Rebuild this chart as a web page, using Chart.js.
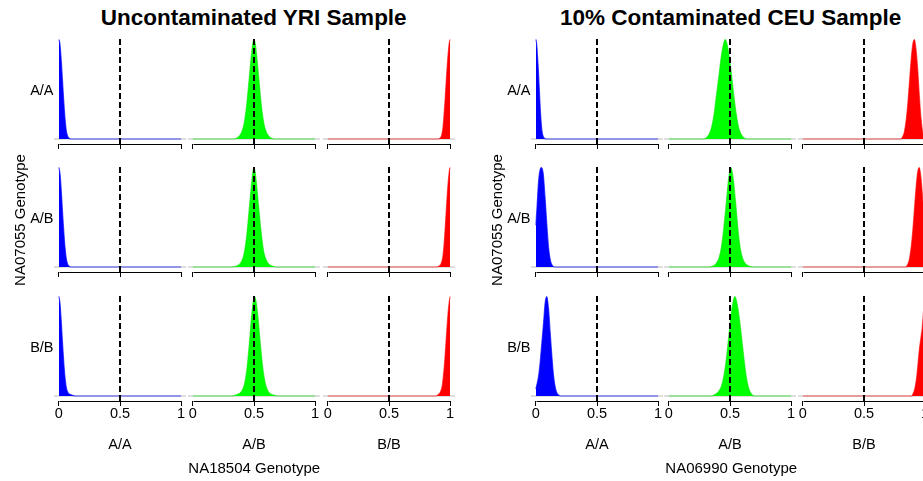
<!DOCTYPE html>
<html>
<head>
<meta charset="utf-8">
<script src="https://cdn.jsdelivr.net/npm/chart.js@4"></script>
<style>
  html, body { margin: 0; padding: 0; background: #fff; overflow: hidden; }
  #page { position: relative; width: 923px; height: 481px; overflow: hidden;
          font-family: "Liberation Sans", Arial, sans-serif; color: #000; }
  canvas { position: absolute; }
  .txt { position: absolute; white-space: nowrap; line-height: 1; transform: translate(-50%, -50%); }
  .right { transform: translate(-100%, -50%); }
  .title { font-weight: bold; font-size: 22.5px; }
  .lab { font-size: 14.5px; }
  .axt { font-size: 15px; }
  .rot { transform: translate(-50%, -50%) rotate(-90deg); }
</style>
</head>
<body>
<div id="page"></div>
<script>
// Labels
const genotypes = ['A/A', 'A/B', 'B/B'];
const xTicks = [0, 0.5, 1];
const panelTitles = ['Uncontaminated YRI Sample', '10% Contaminated CEU Sample'];
const xTitles = ['NA18504 Genotype', 'NA06990 Genotype'];
const yTitle = 'NA07055 Genotype';
const fillColors = ['#0000ff', '#00ff00', '#ff0000'];
const lineColors = ['rgba(0,0,255,0.65)', 'rgba(0,230,0,0.6)', 'rgba(255,0,0,0.6)'];

// Densities (scaled to peak = 1).
// name: panel_rowGenotype_columnGenotype
// YRI, row A/A
const yri_aa_aa_x = [0, 0.005, 0.01, 0.02, 0.03, 0.04, 0.05, 0.06, 0.07, 0.08, 0.1, 1];
const yri_aa_aa_y = [1, 0.98, 0.94, 0.78, 0.58, 0.38, 0.21, 0.09, 0.035, 0.012, 0, 0];
const yri_aa_ab_x = [0, 0.33, 0.36, 0.38, 0.4, 0.42, 0.44, 0.46, 0.48, 0.49, 0.5, 0.51, 0.52, 0.54, 0.56, 0.58, 0.6, 0.62, 0.64, 0.67, 1];
const yri_aa_ab_y = [0, 0, 0.01, 0.03, 0.07, 0.16, 0.34, 0.6, 0.86, 0.96, 1, 0.96, 0.86, 0.6, 0.34, 0.16, 0.07, 0.03, 0.01, 0, 0];
const yri_aa_bb_x = [0, 0.9, 0.92, 0.93, 0.94, 0.95, 0.96, 0.97, 0.98, 0.99, 0.995, 1];
const yri_aa_bb_y = [0, 0, 0.012, 0.035, 0.1, 0.24, 0.42, 0.62, 0.8, 0.94, 0.98, 1];
// YRI, row A/B
const yri_ab_aa_x = [0, 0.005, 0.01, 0.02, 0.03, 0.04, 0.05, 0.06, 0.07, 0.08, 0.1, 1];
const yri_ab_aa_y = [1, 0.97, 0.93, 0.76, 0.55, 0.36, 0.2, 0.09, 0.035, 0.012, 0, 0];
const yri_ab_ab_x = [0, 0.32, 0.35, 0.38, 0.4, 0.42, 0.44, 0.46, 0.48, 0.49, 0.5, 0.51, 0.52, 0.54, 0.56, 0.58, 0.6, 0.62, 0.65, 0.68, 1];
const yri_ab_ab_y = [0, 0, 0.008, 0.025, 0.06, 0.14, 0.31, 0.57, 0.84, 0.95, 1, 0.95, 0.84, 0.58, 0.33, 0.15, 0.07, 0.03, 0.01, 0, 0];
const yri_ab_bb_x = [0, 0.89, 0.91, 0.925, 0.94, 0.95, 0.96, 0.97, 0.98, 0.99, 0.995, 1];
const yri_ab_bb_y = [0, 0, 0.01, 0.03, 0.1, 0.22, 0.4, 0.6, 0.79, 0.93, 0.98, 1];
// YRI, row B/B
const yri_bb_aa_x = [0, 0.005, 0.01, 0.02, 0.03, 0.04, 0.05, 0.06, 0.07, 0.08, 0.09, 0.1, 0.115, 0.13, 1];
const yri_bb_aa_y = [1, 0.97, 0.92, 0.74, 0.53, 0.34, 0.19, 0.09, 0.045, 0.025, 0.018, 0.012, 0.006, 0, 0];
const yri_bb_ab_x = [0, 0.32, 0.35, 0.38, 0.4, 0.42, 0.44, 0.46, 0.48, 0.495, 0.505, 0.515, 0.53, 0.55, 0.57, 0.59, 0.61, 0.63, 0.66, 0.69, 1];
const yri_bb_ab_y = [0, 0, 0.01, 0.025, 0.05, 0.11, 0.25, 0.5, 0.8, 0.96, 1, 0.96, 0.82, 0.55, 0.3, 0.14, 0.06, 0.025, 0.01, 0, 0];
const yri_bb_bb_x = [0, 0.88, 0.9, 0.92, 0.935, 0.945, 0.955, 0.965, 0.975, 0.985, 0.993, 1];
const yri_bb_bb_y = [0, 0, 0.01, 0.04, 0.1, 0.2, 0.34, 0.52, 0.7, 0.86, 0.95, 1];

// CEU, row A/A
const ceu_aa_aa_x = [0, 0.005, 0.01, 0.02, 0.03, 0.04, 0.05, 0.06, 0.07, 0.08, 1];
const ceu_aa_aa_y = [1, 0.97, 0.9, 0.7, 0.45, 0.22, 0.08, 0.025, 0.008, 0, 0];
const ceu_aa_ab_x = [0, 0.28, 0.31, 0.33, 0.35, 0.37, 0.39, 0.41, 0.43, 0.45, 0.46, 0.47, 0.49, 0.51, 0.53, 0.55, 0.57, 0.59, 0.61, 0.64, 1];
const ceu_aa_ab_y = [0, 0, 0.015, 0.05, 0.12, 0.25, 0.45, 0.64, 0.84, 0.97, 1, 0.98, 0.86, 0.67, 0.45, 0.26, 0.12, 0.05, 0.015, 0, 0];
const ceu_aa_bb_x = [0, 0.8, 0.815, 0.83, 0.845, 0.86, 0.873, 0.886, 0.9, 0.913, 0.926, 0.94, 0.953, 0.967, 0.98, 0.99, 1];
const ceu_aa_bb_y = [0, 0, 0.02, 0.07, 0.19, 0.38, 0.59, 0.8, 0.96, 1, 0.9, 0.69, 0.43, 0.2, 0.07, 0.03, 0.01];
// CEU, row A/B
const ceu_ab_aa_x = [0, 0.01, 0.02, 0.03, 0.045, 0.06, 0.075, 0.09, 0.105, 0.12, 0.135, 0.15, 1];
const ceu_ab_aa_y = [0.42, 0.62, 0.83, 0.95, 1, 0.94, 0.7, 0.42, 0.18, 0.06, 0.015, 0, 0];
const ceu_ab_ab_x = [0, 0.33, 0.35, 0.37, 0.39, 0.41, 0.43, 0.45, 0.47, 0.49, 0.508, 0.525, 0.545, 0.565, 0.585, 0.605, 0.625, 0.645, 0.665, 0.69, 1];
const ceu_ab_ab_y = [0, 0, 0.005, 0.015, 0.04, 0.09, 0.2, 0.4, 0.65, 0.9, 1, 0.9, 0.66, 0.38, 0.18, 0.08, 0.035, 0.015, 0.005, 0, 0];
const ceu_ab_bb_x = [0, 0.84, 0.855, 0.87, 0.885, 0.9, 0.913, 0.926, 0.94, 0.953, 0.966, 0.98, 0.993, 1];
const ceu_ab_bb_y = [0, 0, 0.02, 0.07, 0.19, 0.38, 0.59, 0.8, 0.96, 1, 0.9, 0.69, 0.45, 0.33];
// CEU, row B/B
const ceu_bb_aa_x = [0, 0.022, 0.035, 0.049, 0.063, 0.076, 0.09, 0.104, 0.117, 0.131, 0.145, 0.158, 0.172, 0.186, 0.2, 1];
const ceu_bb_aa_y = [0.07, 0.2, 0.34, 0.54, 0.74, 0.94, 1, 0.87, 0.64, 0.4, 0.2, 0.09, 0.03, 0.01, 0, 0];
const ceu_bb_ab_x = [0, 0.34, 0.37, 0.39, 0.41, 0.43, 0.45, 0.47, 0.49, 0.51, 0.53, 0.54, 0.55, 0.57, 0.59, 0.61, 0.63, 0.65, 0.67, 0.7, 1];
const ceu_bb_ab_y = [0, 0, 0.01, 0.025, 0.05, 0.1, 0.2, 0.37, 0.6, 0.83, 0.97, 1, 0.97, 0.84, 0.64, 0.42, 0.22, 0.09, 0.03, 0, 0];
const ceu_bb_bb_x = [0, 0.89, 0.9, 0.915, 0.93, 0.94, 0.953, 0.965, 0.975, 0.985, 0.993, 1];
const ceu_bb_bb_y = [0, 0, 0.02, 0.07, 0.18, 0.3, 0.47, 0.58, 0.67, 0.82, 0.94, 1];

const panels = [
  {
    curves: [
      [[yri_aa_aa_x, yri_aa_aa_y], [yri_aa_ab_x, yri_aa_ab_y], [yri_aa_bb_x, yri_aa_bb_y]],
      [[yri_ab_aa_x, yri_ab_aa_y], [yri_ab_ab_x, yri_ab_ab_y], [yri_ab_bb_x, yri_ab_bb_y]],
      [[yri_bb_aa_x, yri_bb_aa_y], [yri_bb_ab_x, yri_bb_ab_y], [yri_bb_bb_x, yri_bb_bb_y]]
    ],
    lefts: [54, 188, 323], offset: 0
  },
  {
    curves: [
      [[ceu_aa_aa_x, ceu_aa_aa_y], [ceu_aa_ab_x, ceu_aa_ab_y], [ceu_aa_bb_x, ceu_aa_bb_y]],
      [[ceu_ab_aa_x, ceu_ab_aa_y], [ceu_ab_ab_x, ceu_ab_ab_y], [ceu_ab_bb_x, ceu_ab_bb_y]],
      [[ceu_bb_aa_x, ceu_bb_aa_y], [ceu_bb_ab_x, ceu_bb_ab_y], [ceu_bb_bb_x, ceu_bb_bb_y]]
    ],
    lefts: [531, 664, 798], offset: 477
  }
];

const rowTops = [37, 165, 294];
const plotH = 107, axisH = 30, cellW = 132;
const xMin = -0.04, xMax = 1.04, yMin = -0.05, yMax = 1.025;

Chart.defaults.font.family = '"Liberation Sans", Arial, sans-serif';

// R style axis line: only from first to last tick
const axisLine = {
  id: 'axisLine',
  afterDraw(chart) {
    const sx = chart.scales.x, ctx = chart.ctx;
    const y = Math.round(chart.chartArea.bottom) + 0.5;
    ctx.save();
    ctx.strokeStyle = '#000';
    ctx.lineWidth = 1;
    ctx.beginPath();
    ctx.moveTo(Math.round(sx.getPixelForValue(xTicks[0])) + 0.5, y);
    ctx.lineTo(Math.round(sx.getPixelForValue(xTicks[xTicks.length - 1])) + 0.5, y);
    ctx.stroke();
    ctx.restore();
  }
};

const page = document.getElementById('page');

function addText(cls, text, x, y) {
  const d = document.createElement('div');
  d.className = 'txt ' + cls;
  d.textContent = text;
  d.style.left = x + 'px';
  d.style.top = y + 'px';
  page.appendChild(d);
}

function makeCell(left, top, xs, ys, col, showLabels) {
  const cv = document.createElement('canvas');
  cv.width = cellW;
  cv.height = plotH + axisH;
  cv.style.left = left + 'px';
  cv.style.top = top + 'px';
  page.appendChild(cv);

  new Chart(cv, {
    type: 'scatter',
    data: {
      datasets: [
        {
          data: xs.map((x, i) => ({ x: x, y: ys[i] })),
          showLine: true,
          fill: 'origin',
          backgroundColor: fillColors[col],
          borderColor: lineColors[col],
          borderWidth: 1.2,
          cubicInterpolationMode: 'monotone',
          pointRadius: 0,
          order: 2
        },
        {
          data: [{ x: xMin, y: 0 }, { x: xMax, y: 0 }],
          showLine: true,
          borderColor: '#d3d3d3',
          borderWidth: 1.5,
          pointRadius: 0,
          order: 3
        },
        {
          data: [{ x: 0.5, y: yMin }, { x: 0.5, y: yMax }],
          showLine: true,
          borderColor: '#000',
          borderWidth: 2,
          borderDash: [6, 3],
          pointRadius: 0,
          order: 1
        }
      ]
    },
    options: {
      responsive: false,
      animation: false,
      events: [],
      layout: { padding: 0 },
      plugins: { legend: { display: false }, tooltip: { enabled: false } },
      scales: {
        x: {
          type: 'linear',
          position: 'bottom',
          min: xMin,
          max: xMax,
          afterBuildTicks: s => { s.ticks = xTicks.map(v => ({ value: v })); },
          afterFit: s => { s.height = axisH; },
          border: { display: false },
          grid: { drawOnChartArea: false, drawTicks: true, tickLength: 5, color: '#000', lineWidth: 1 },
          ticks: {
            autoSkip: false,
            maxRotation: 0,
            padding: -1,
            color: showLabels ? '#000' : 'rgba(0,0,0,0)',
            font: { size: 14.5 },
            callback: v => String(v)
          }
        },
        y: { display: false, min: yMin, max: yMax }
      }
    },
    plugins: [axisLine]
  });
}

panels.forEach((p, pi) => {
  p.curves.forEach((row, ri) => {
    row.forEach((c, ci) => {
      makeCell(p.lefts[ci], rowTops[ri], c[0], c[1], ci, ri === 2);
    });
    addText('lab right', genotypes[ri], 53.5 + p.offset, rowTops[ri] + 53);
  });
  p.lefts.forEach((l, ci) => {
    addText('lab', genotypes[ci], l + cellW / 2, 443.5);
  });
  addText('title', panelTitles[pi], 253.7 + p.offset, 17.5);
  addText('axt', xTitles[pi], 254.2 + p.offset, 467);
  addText('axt rot', yTitle, 18.7 + p.offset, 219.5);
});
</script>
</body>
</html>
